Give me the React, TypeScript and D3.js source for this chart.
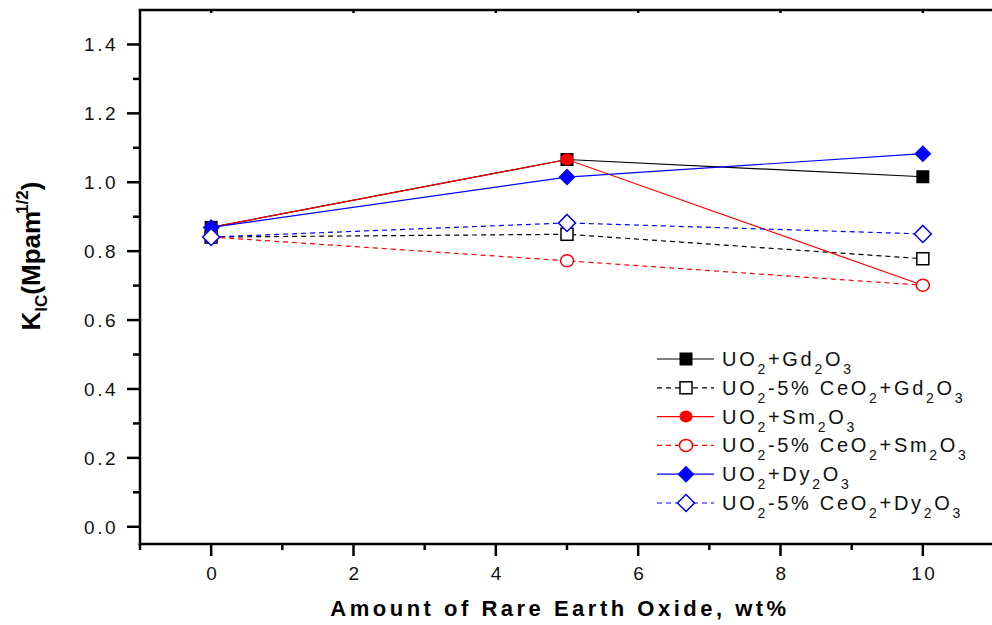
import React from "react";
import * as d3 from "d3";

const xValues = [0, 5, 10];
const gdPlain = [0.869, 1.066, 1.016];
const gdCeo = [0.841, 0.849, 0.778];
const smPlain = [0.869, 1.066, 0.701];
const smCeo = [0.841, 0.772, 0.701];
const dyPlain = [0.869, 1.015, 1.083];
const dyCeo = [0.841, 0.882, 0.85];

const yMajor = [0, 0.2, 0.4, 0.6, 0.8, 1.0, 1.2, 1.4];
const yMinor = [0.1, 0.3, 0.5, 0.7, 0.9, 1.1, 1.3];
const xMajor = [0, 2, 4, 6, 8, 10];
const xMinor = [-1, 1, 3, 5, 7, 9, 11];

type Series = {
  name: string[];
  values: number[];
  color: string;
  dashed: boolean;
  marker: "square" | "circle" | "diamond";
  filled: boolean;
};

const series: Series[] = [
  { name: ["UO", "2", "+Gd", "2", "O", "3"], values: gdPlain, color: "#000000", dashed: false, marker: "square", filled: true },
  { name: ["UO", "2", "-5% CeO", "2", "+Gd", "2", "O", "3"], values: gdCeo, color: "#000000", dashed: true, marker: "square", filled: false },
  { name: ["UO", "2", "+Sm", "2", "O", "3"], values: smPlain, color: "#ff0000", dashed: false, marker: "circle", filled: true },
  { name: ["UO", "2", "-5% CeO", "2", "+Sm", "2", "O", "3"], values: smCeo, color: "#ff0000", dashed: true, marker: "circle", filled: false },
  { name: ["UO", "2", "+Dy", "2", "O", "3"], values: dyPlain, color: "#0000ff", dashed: false, marker: "diamond", filled: true },
  { name: ["UO", "2", "-5% CeO", "2", "+Dy", "2", "O", "3"], values: dyCeo, color: "#0000ff", dashed: true, marker: "diamond", filled: false },
];

const W = 992;
const H = 625;
const L = 140, R = 994, T = 10, B = 544;

function Marker({ s, cx, cy }: { s: Series; cx: number; cy: number }) {
  const fill = s.filled ? s.color : "#ffffff";
  const sw = s.filled ? 0 : 1.5;
  if (s.marker === "square") {
    const h = s.filled ? 6.5 : 6;
    return <rect x={cx - h} y={cy - h} width={2 * h} height={2 * h} fill={fill} stroke={s.color} strokeWidth={sw} />;
  }
  if (s.marker === "circle") {
    return <ellipse cx={cx} cy={cy} rx={6.5} ry={6} fill={fill} stroke={s.color} strokeWidth={sw} />;
  }
  const d = 8.5;
  return (
    <path
      d={`M${cx},${cy - d}L${cx + d},${cy}L${cx},${cy + d}L${cx - d},${cy}Z`}
      fill={fill}
      stroke={s.color}
      strokeWidth={sw}
    />
  );
}

export default function App() {
  const x = d3.scaleLinear().domain([-1, 11]).range([L, R]);
  const y = d3.scaleLinear().domain([-0.05, 1.5]).range([B, T]);
  const line = d3
    .line<number>()
    .x((_, i) => x(xValues[i]))
    .y((v) => y(v));

  const font = "'Liberation Sans', Arial, sans-serif";
  const legX0 = 657, legX1 = 714, legMx = 686, legTx = 722;
  const legY0 = 359, legDy = 28.8;

  return (
    <div>
      <style>{`body{margin:0;}`}</style>
      <svg width={W} height={H} style={{ display: "block", background: "#fff" }} fontFamily={font}>
        {series.map((s, i) => (
          <path
            key={"l" + i}
            d={line(s.values) || ""}
            fill="none"
            stroke={s.color}
            strokeWidth={1.2}
            strokeDasharray={s.dashed ? "5,4" : undefined}
          />
        ))}
        {series.map((s, i) =>
          s.values.map((v, j) => <Marker key={`m${i}-${j}`} s={s} cx={x(xValues[j])} cy={y(v)} />)
        )}

        <line x1={L} x2={L} y1={T} y2={B + 1.25} stroke="#000" strokeWidth={2.5} />
        <line x1={L - 1.25} x2={R} y1={B} y2={B} stroke="#000" strokeWidth={2.5} />
        <line x1={L - 1.25} x2={R} y1={T} y2={T} stroke="#000" strokeWidth={2.5} />

        {yMajor.map((v) => (
          <g key={"ym" + v}>
            <line x1={L - 13} x2={L} y1={y(v)} y2={y(v)} stroke="#000" strokeWidth={2.5} />
            <text x={L - 22} y={y(v) + 7} textAnchor="end" fontSize={19} letterSpacing={2.5} fill="#111">
              {d3.format(".1f")(v)}
            </text>
          </g>
        ))}
        {yMinor.map((v) => (
          <line key={"yn" + v} x1={L - 7} x2={L} y1={y(v)} y2={y(v)} stroke="#000" strokeWidth={2.5} />
        ))}

        {xMajor.map((v) => (
          <g key={"xm" + v}>
            <line x1={x(v)} x2={x(v)} y1={B} y2={B + 12} stroke="#000" strokeWidth={2.5} />
            <line x1={x(v)} x2={x(v)} y1={T} y2={T + 3} stroke="#000" strokeWidth={2.5} />
            <text x={x(v) + 1.5} y={580} textAnchor="middle" fontSize={19} letterSpacing={2.5} fill="#111">
              {v}
            </text>
          </g>
        ))}
        {xMinor.map((v) => (
          <line key={"xn" + v} x1={x(v)} x2={x(v)} y1={B} y2={B + 6} stroke="#000" strokeWidth={2.5} />
        ))}

        <text x={560} y={616} textAnchor="middle" fontSize={22} fontWeight="bold" letterSpacing={3.5} fill="#000">
          Amount of Rare Earth Oxide, wt%
        </text>
        <text transform="translate(40,256) rotate(-90)" textAnchor="middle" fontSize={26} fontWeight="bold" fill="#000">
          K
          <tspan fontSize={17} dy={7}>IC</tspan>
          <tspan fontSize={26} dy={-7}>(Mpam</tspan>
          <tspan fontSize={17} dy={-12} dx={-3}>1/2</tspan>
          <tspan fontSize={26} dy={12}>)</tspan>
        </text>

        {series.map((s, i) => {
          const cy = legY0 + i * legDy;
          return (
            <g key={"lg" + i}>
              <line
                x1={legX0}
                x2={legX1}
                y1={cy}
                y2={cy}
                stroke={s.color}
                strokeWidth={1.2}
                strokeDasharray={s.dashed ? "5,4" : undefined}
              />
              <Marker s={s} cx={legMx} cy={cy} />
              <text x={legTx} y={cy + 7} fontSize={20} letterSpacing={2.7} fill="#111">
                {s.name.map((p, k) =>
                  k % 2 === 0 ? (
                    <tspan key={k} fontSize={20} dy={k === 0 ? 0 : -8}>
                      {p}
                    </tspan>
                  ) : (
                    <tspan key={k} fontSize={14} dy={8}>
                      {p}
                    </tspan>
                  )
                )}
              </text>
            </g>
          );
        })}
      </svg>
    </div>
  );
}
